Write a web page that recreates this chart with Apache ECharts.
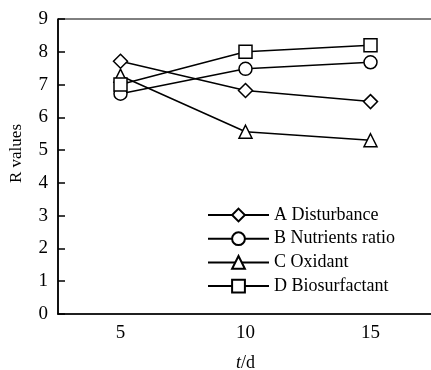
<!DOCTYPE html>
<html>
<head>
<meta charset="utf-8">
<script src="https://cdn.jsdelivr.net/npm/echarts@6/dist/echarts.min.js"></script>
<style>
  html, body { margin: 0; padding: 0; background: #fff; }
  #main { width: 431px; height: 370px; }
</style>
</head>
<body>
<div id="main"></div>
<script>
// 数据
var days = ['5', '10', '15'];
var disturbance = [7.71, 6.82, 6.48];
var nutrients = [6.72, 7.48, 7.68];
var oxidant = [7.27, 5.56, 5.3];
var biosurfactant = [7.0, 8.0, 8.2];
var yTicks = [0, 1, 2, 3, 4, 5, 6, 7, 8, 9];

var font = 'Liberation Serif, Times New Roman, serif';

function line(name, data, symbol, size) {
  return {
    name: name,
    type: 'line',
    data: data,
    symbol: symbol,
    symbolSize: size,
    showAllSymbol: true,
    lineStyle: { color: '#000', width: 1.5 },
    itemStyle: { color: '#fff', borderColor: '#000', borderWidth: 1.5 },
    emphasis: { disabled: true },
    z: 3
  };
}

var myChart = echarts.init(document.getElementById('main'));
var option = {
  animation: false,
  backgroundColor: '#fff',
  grid: {
    left: 58,
    top: 19,
    width: 375,
    height: 295,
    outerBoundsMode: 'none',
    show: true,
    borderColor: '#000',
    borderWidth: 1
  },
  legend: {
    left: 202,
    top: 201,
    orient: 'vertical',
    itemWidth: 61,
    itemHeight: 16,
    itemGap: 5.7,
    textStyle: { fontFamily: font, fontSize: 18, color: '#000' },
    data: ['A Disturbance', 'B Nutrients ratio', 'C Oxidant', 'D Biosurfactant']
  },
  xAxis: {
    type: 'category',
    data: days,
    boundaryGap: true,
    name: '{i|t}/d',
    nameLocation: 'middle',
    nameGap: 40,
    nameTextStyle: {
      fontFamily: font, fontSize: 18, color: '#000',
      rich: { i: { fontFamily: font, fontSize: 18, fontStyle: 'italic', color: '#000' } }
    },
    axisLine: { lineStyle: { color: '#000', width: 1.7 } },
    axisTick: { inside: true, length: 6, alignWithLabel: false, lineStyle: { color: '#000', width: 1.5 } },
    axisLabel: { fontFamily: font, fontSize: 19, color: '#000', margin: 10 }
  },
  yAxis: {
    type: 'value',
    min: yTicks[0],
    max: yTicks[yTicks.length - 1],
    interval: 1,
    name: 'R values',
    nameLocation: 'middle',
    nameGap: 33,
    nameTextStyle: { fontFamily: font, fontSize: 17, color: '#000', padding: [0, 0, 0, 26] },
    axisLine: { show: true, lineStyle: { color: '#000', width: 1.7 } },
    axisTick: { show: true, inside: true, length: 7, lineStyle: { color: '#000', width: 1.5 } },
    axisLabel: { fontFamily: font, fontSize: 19, color: '#000', margin: 10 },
    splitLine: { show: false }
  },
  series: [
    line('A Disturbance', disturbance, 'diamond', 14),
    line('B Nutrients ratio', nutrients, 'circle', 13),
    line('C Oxidant', oxidant, 'triangle', 13),
    line('D Biosurfactant', biosurfactant, 'rect', 13)
  ]
};
myChart.setOption(option);
</script>
</body>
</html>
